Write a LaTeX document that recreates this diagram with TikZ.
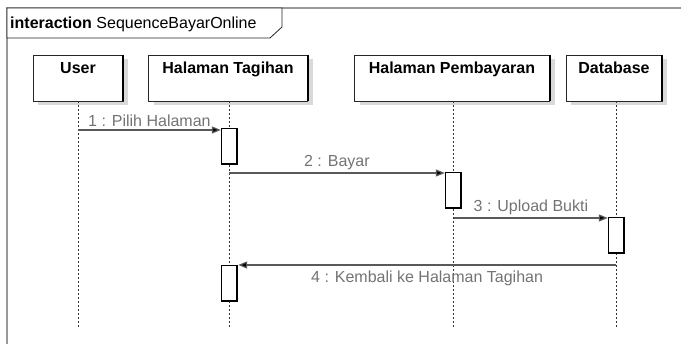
\documentclass[tikz,border=0pt]{standalone}
\usepackage{fontspec}
\setmainfont{Liberation Sans}
\usetikzlibrary{arrows.meta, shadows, positioning}

\tikzset{
  head/.style={draw=black!85, fill=white, font=\fontsize{16}{18}\selectfont\bfseries,
    minimum height=46pt, text height=15pt, text depth=23pt, inner sep=4pt,
    drop shadow={shadow xshift=5pt, shadow yshift=-4pt, fill=black!15, opacity=1}},
  act/.style={draw=black, fill=white, minimum width=16pt, minimum height=36pt, inner sep=0pt},
  lifeline/.style={dash pattern=on 2pt off 2pt, black!80, line width=1pt},
  msg/.style={-{Triangle[length=9pt,width=7pt,fill=black]}, black!65, line width=1.2pt},
  msglabel/.style={font=\fontsize{16}{18}\selectfont, text=black!55, inner sep=1pt},
  edge/.style={line width=1.8pt, black}
}

\begin{document}
\begin{tikzpicture}[x=1pt, y=-1pt]
  \useasboundingbox (0,0) rectangle (681,344);
  % frame
  \draw[black!40, line width=2.5pt] (681,8) -- (7,8) -- (7,344);
  \filldraw[fill=white, draw=black!85, line width=0.8pt]
    (7,8) -- (282,8) -- (282,27) -- (270,38) -- (7,38) -- cycle;
  \node[anchor=base west, font=\fontsize{16}{18}\selectfont, inner sep=0pt] (title) at (10,29)
    {\textbf{interaction} SequenceBayarOnline};
  % lifeline heads
  \node[head, minimum width=90pt] (user) at (78,78) {User};
  \node[head, minimum width=159pt] (tagihan) at (228,78) {Halaman Tagihan};
  \node[head, minimum width=195pt] (bayar) at (452,78) {Halaman Pembayaran};
  \node[head, minimum width=96pt] (db) at (614,78) {Database};
  \foreach \h in {user, tagihan, bayar, db}
    \draw[edge] (\h.north east) -- (\h.south east);
  % lifelines
  \draw[lifeline] (78,101) -- (78,328);
  \draw[lifeline] (229,101) -- (229,328);
  \draw[lifeline] (453,101) -- (453,328);
  \draw[lifeline] (616,101) -- (616,328);
  % activations
  \node[act] (act1) at (229,146) {};
  \node[act] (act2) at (453,190) {};
  \node[act] (act3) at (616,235) {};
  \node[act] (act4) at (229,283) {};
  \foreach \a in {act1, act2, act3, act4}
    \draw[edge] (\a.north east) -- (\a.south east) -- (\a.south west);
  % message start points
  \coordinate (m1) at (78,130);
  \coordinate (m2) at (229,173);
  \coordinate (m3) at (454,218);
  \coordinate (m4) at (616,265);
  % messages
  \draw[msg] (m1) -- (m1 -| act1.west)
    node[msglabel, midway, above=2pt] (lab1) {1 : Pilih Halaman};
  \draw[msg] (m2) -- (m2 -| act2.west)
    node[msglabel, midway, above=2pt] (lab2) {2 : Bayar};
  \draw[msg] (m3) -- (m3 -| act3.west)
    node[msglabel, midway, above=2pt] (lab3) {3 : Upload Bukti};
  \draw[msg] (m4) -- ([xshift=1pt]m4 -| act4.east)
    node[msglabel, midway, below=4pt] (lab4) {4 : Kembali ke Halaman Tagihan};
\end{tikzpicture}
\end{document}
